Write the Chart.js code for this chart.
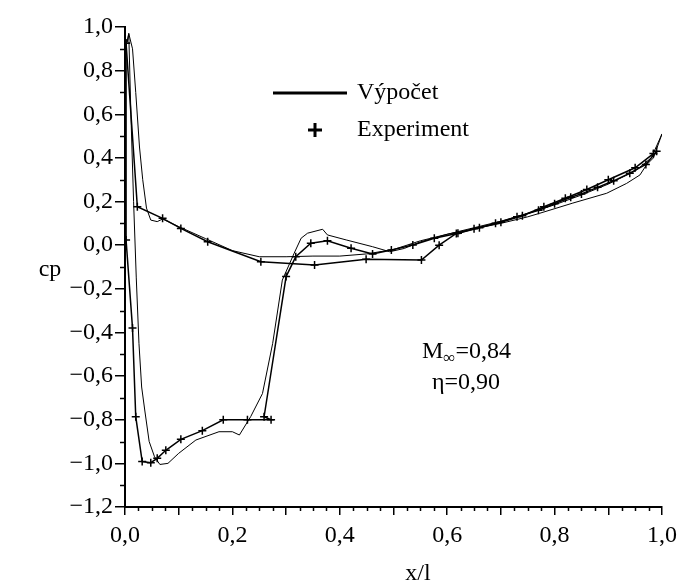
<!DOCTYPE html>
<html>
<head>
<meta charset="utf-8">
<script src="https://cdn.jsdelivr.net/npm/chart.js@4.4.1/dist/chart.umd.min.js"></script>
<style>
  body { margin: 0; background: #fff; }
  #chart { display: block; }
</style>
</head>
<body>
<canvas id="chart" width="679" height="587"></canvas>
<script>
// Výpočet - horní strana (sací)
const compUpperX = [0.004, 0.007, 0.011, 0.016, 0.021, 0.026, 0.031, 0.037, 0.045, 0.055, 0.065, 0.08, 0.1, 0.132, 0.175, 0.2, 0.213, 0.234, 0.256, 0.275, 0.293, 0.315, 0.328, 0.34, 0.368, 0.377, 0.412, 0.461, 0.493, 0.52, 0.55, 0.6, 0.65, 0.7, 0.75, 0.772, 0.834, 0.897, 0.934, 0.959, 0.971, 0.984, 1.0];
const compUpperY = [0.93, 0.97, 0.6, 0.2, -0.15, -0.45, -0.65, -0.76, -0.9, -0.97, -1.005, -1.0, -0.954, -0.893, -0.855, -0.855, -0.87, -0.786, -0.68, -0.45, -0.16, -0.037, 0.032, 0.055, 0.073, 0.047, 0.024, -0.007, -0.03, -0.015, 0.015, 0.05, 0.075, 0.1, 0.13, 0.146, 0.193, 0.238, 0.283, 0.322, 0.368, 0.40, 0.51];

// Výpočet - dolní strana (tlaková)
const compLowerX = [0.004, 0.007, 0.014, 0.02, 0.027, 0.033, 0.04, 0.048, 0.06, 0.07, 0.1, 0.15, 0.2, 0.25, 0.3, 0.35, 0.4, 0.45, 0.5, 0.55, 0.6, 0.65, 0.7, 0.75, 0.8, 0.85, 0.9, 0.95, 0.98, 1.0];
const compLowerY = [0.93, 0.97, 0.9, 0.7, 0.45, 0.3, 0.17, 0.115, 0.108, 0.12, 0.085, 0.03, -0.025, -0.053, -0.053, -0.05, -0.05, -0.04, -0.02, 0.02, 0.05, 0.08, 0.11, 0.145, 0.185, 0.23, 0.28, 0.34, 0.40, 0.51];

// Experiment - horní strana
const expUpperX = [0.002, 0.002, 0.014, 0.02, 0.032, 0.048, 0.06, 0.076, 0.104, 0.144, 0.183, 0.228, 0.272, 0.259, 0.30, 0.318, 0.346, 0.377, 0.421, 0.461, 0.496, 0.536, 0.576, 0.62, 0.66, 0.70, 0.74, 0.78, 0.82, 0.86, 0.9, 0.95, 0.984];
const expUpperY = [0.925, 0.024, -0.38, -0.786, -0.992, -0.997, -0.977, -0.94, -0.89, -0.85, -0.80, -0.80, -0.80, -0.786, -0.144, -0.053, 0.009, 0.02, -0.014, -0.04, -0.022, 0.001, 0.032, 0.055, 0.08, 0.105, 0.135, 0.176, 0.215, 0.255, 0.30, 0.355, 0.42];

// Experiment - dolní strana
const expLowerX = [0.002, 0.023, 0.07, 0.104, 0.154, 0.253, 0.353, 0.449, 0.552, 0.585, 0.617, 0.65, 0.69, 0.73, 0.77, 0.80, 0.83, 0.85, 0.88, 0.91, 0.94, 0.97, 0.99];
const expLowerY = [0.925, 0.176, 0.123, 0.077, 0.016, -0.076, -0.091, -0.065, -0.068, 0.0, 0.054, 0.075, 0.1, 0.13, 0.16, 0.19, 0.22, 0.235, 0.265, 0.295, 0.33, 0.37, 0.43];

const yTicks = [-1.2, -1.0, -0.8, -0.6, -0.4, -0.2, 0, 0.2, 0.4, 0.6, 0.8, 1.0];

const FONT = "'Liberation Serif', 'DejaVu Serif', serif";
const FS = 24;

function pts(xs, ys) {
  return xs.map((x, i) => ({ x: x, y: ys[i] }));
}

function fmt(v) {
  let s = v.toFixed(1).replace('.', ',');
  if (s === '-0,0') s = '0,0';
  return s.replace('-', '\u2212');
}

// popisky, legenda a vedlejsi znacky na osach
const extras = {
  id: 'extras',
  afterDraw(chart) {
    const ctx = chart.ctx;
    const xs = chart.scales.x, ys = chart.scales.y;
    ctx.save();
    ctx.strokeStyle = '#000';
    ctx.fillStyle = '#000';
    ctx.lineWidth = 1.5;
    // minor ticks x
    for (let i = 0; i <= 40; i++) {
      if (i % 4 === 0) continue;
      const px = Math.round(xs.getPixelForValue(i * 0.025)) + 0.5;
      ctx.beginPath();
      ctx.moveTo(px, xs.top);
      ctx.lineTo(px, xs.top + 4);
      ctx.stroke();
    }
    // minor ticks y
    for (let i = 0; i < 11; i++) {
      const py = Math.round(ys.getPixelForValue(-1.1 + i * 0.2)) + 0.5;
      ctx.beginPath();
      ctx.moveTo(ys.right, py);
      ctx.lineTo(ys.right - 5, py);
      ctx.stroke();
    }

    ctx.font = FS + 'px ' + FONT;
    ctx.textBaseline = 'middle';
    ctx.textAlign = 'center';
    ctx.fillText('cp', 50, 270);
    ctx.fillText('x/l', 418, 574);

    // legenda
    ctx.textAlign = 'left';
    ctx.lineWidth = 3;
    ctx.beginPath();
    ctx.moveTo(273, 93);
    ctx.lineTo(347, 93);
    ctx.stroke();
    ctx.fillText('V\u00fdpo\u010det', 357, 93);
    ctx.beginPath();
    ctx.moveTo(308, 130);
    ctx.lineTo(322, 130);
    ctx.moveTo(315, 123);
    ctx.lineTo(315, 137);
    ctx.stroke();
    ctx.fillText('Experiment', 357, 130);

    // parametry
    ctx.fillText('M', 422, 352);
    const w = ctx.measureText('M').width;
    ctx.font = '17px ' + FONT;
    ctx.fillText('\u221e', 422 + w, 359);
    const w2 = ctx.measureText('\u221e').width;
    ctx.font = FS + 'px ' + FONT;
    ctx.fillText('=0,84', 422 + w + w2, 352);
    ctx.fillText('\u03b7=0,90', 432, 383);
    ctx.restore();
  }
};

const data = {
  datasets: [
    {
      label: 'Výpočet',
      data: pts(compUpperX, compUpperY),
      showLine: true,
      borderColor: '#000',
      borderWidth: 1,
      pointRadius: 0,
      tension: 0
    },
    {
      label: 'Výpočet',
      data: pts(compLowerX, compLowerY),
      showLine: true,
      borderColor: '#000',
      borderWidth: 1,
      pointRadius: 0,
      tension: 0
    },
    {
      label: 'Experiment',
      data: pts(expUpperX, expUpperY),
      showLine: true,
      borderColor: '#000',
      borderWidth: 1.5,
      pointStyle: 'cross',
      pointRadius: 4,
      pointBorderWidth: 1.5,
      pointBorderColor: '#000'
    },
    {
      label: 'Experiment',
      data: pts(expLowerX, expLowerY),
      showLine: true,
      borderColor: '#000',
      borderWidth: 1.5,
      pointStyle: 'cross',
      pointRadius: 4,
      pointBorderWidth: 1.5,
      pointBorderColor: '#000'
    }
  ]
};

const config = {
  type: 'scatter',
  data: data,
  options: {
    responsive: false,
    animation: false,
    layout: {
      padding: { top: 27, right: 17, left: 0, bottom: 0 }
    },
    plugins: {
      legend: { display: false },
      tooltip: { enabled: false }
    },
    scales: {
      x: {
        type: 'linear',
        min: 0,
        max: 1,
        afterBuildTicks: (s) => {
          s.ticks = [];
          for (let i = 0; i <= 10; i++) s.ticks.push({ value: i / 10 });
        },
        afterFit: (s) => { s.height = 80; s.paddingRight = 0; s.paddingLeft = 0; },
        border: { display: true, color: '#000', width: 2 },
        grid: { display: true, drawOnChartArea: false, drawTicks: true, tickLength: 8, color: '#000', lineWidth: 1.5 },
        ticks: {
          color: '#000',
          font: { family: FONT, size: FS },
          padding: 6,
          maxRotation: 0,
          autoSkip: false,
          callback: (v) => (Math.round(v * 10) % 2 === 0 ? fmt(v) : '')
        }
      },
      y: {
        type: 'linear',
        min: -1.2,
        max: 1.0,
        afterBuildTicks: (s) => {
          s.ticks = yTicks.map(v => ({ value: v }));
        },
        afterFit: (s) => { s.width = 125; },
        border: { display: true, color: '#000', width: 2 },
        grid: { display: true, drawOnChartArea: false, drawTicks: true, tickLength: 10, color: '#000', lineWidth: 1.5 },
        ticks: {
          color: '#000',
          font: { family: FONT, size: FS },
          padding: 2,
          autoSkip: false,
          callback: (v) => fmt(v)
        }
      }
    }
  },
  plugins: [extras]
};

const cpChart = new Chart(document.getElementById('chart'), config);
</script>
</body>
</html>
